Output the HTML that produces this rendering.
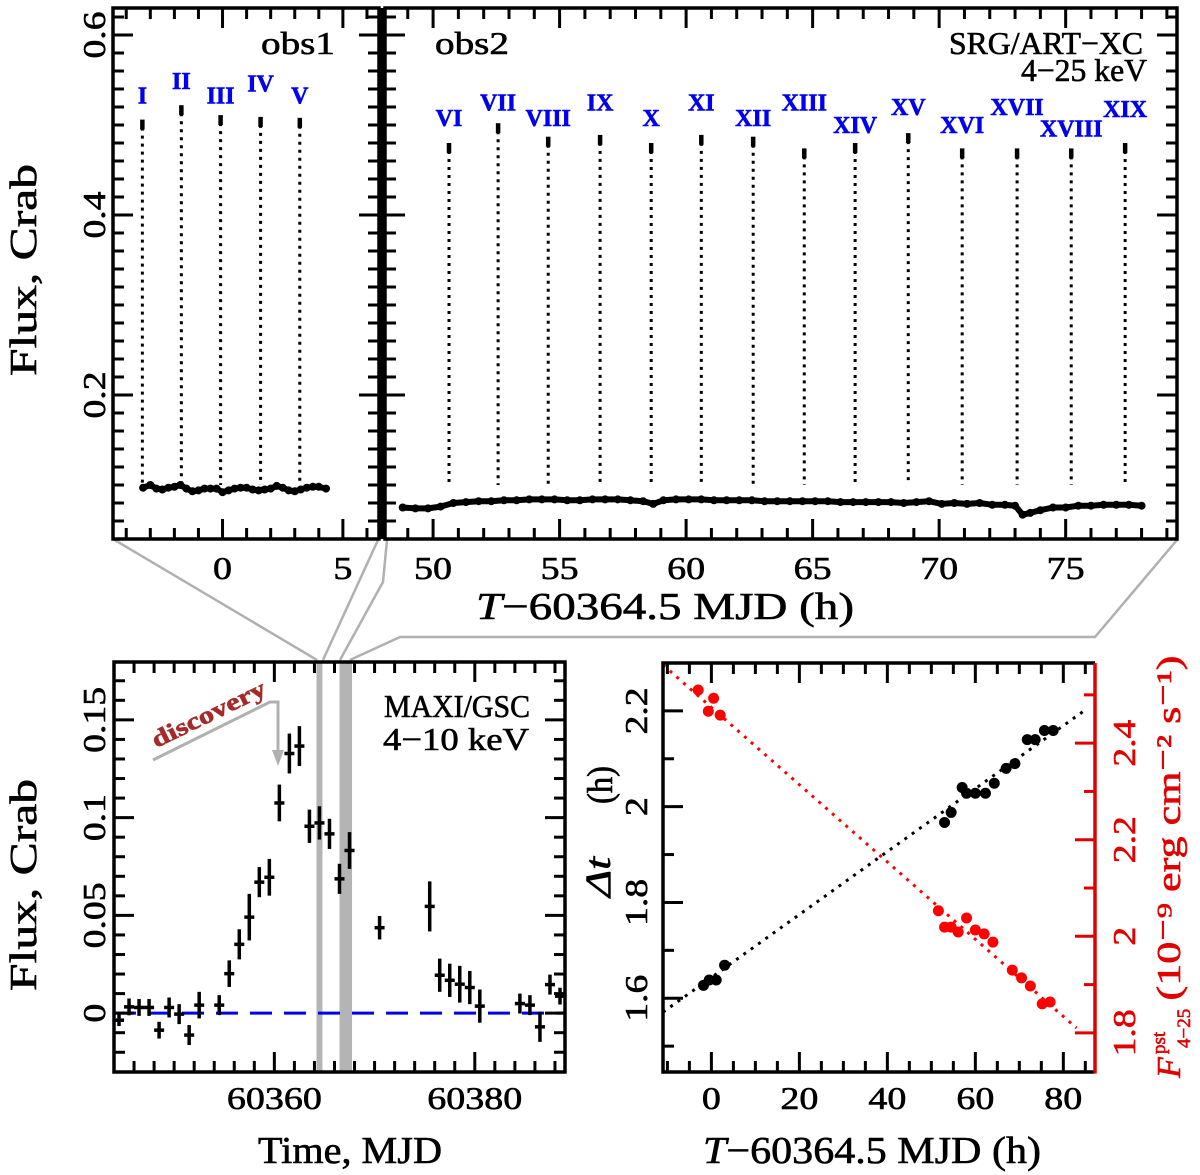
<!DOCTYPE html>
<html><head><meta charset="utf-8">
<style>
html,body{margin:0;padding:0;background:#fff;}
svg{display:block;font-family:"Liberation Serif",serif;}
text{stroke:currentColor;stroke-width:0.6;}
</style></head>
<body>
<svg id="fig" width="1200" height="1175" viewBox="0 0 1200 1175" xmlns="http://www.w3.org/2000/svg">
<g id="connectors" stroke="#b0b0b0" stroke-width="2.5" fill="none">
  <polyline points="113,539 317,660"/>
  <polyline points="378,540 323,660"/>
  <polyline points="387,540 383,582 340,660"/>
  <polyline points="1177,540 1095,637 400,637 350,660"/>
</g>
<g id="layer"></g>
<g color="#000" fill="#000">
<text x="298" y="54" font-size="32" text-anchor="middle" textLength="74" lengthAdjust="spacingAndGlyphs">obs1</text>
<text x="472" y="54" font-size="32" text-anchor="middle" textLength="74" lengthAdjust="spacingAndGlyphs">obs2</text>
<text x="1046" y="54" font-size="32" text-anchor="middle" textLength="194" lengthAdjust="spacingAndGlyphs">SRG/ART−XC</text>
<text x="1084" y="81" font-size="32" text-anchor="middle" textLength="126" lengthAdjust="spacingAndGlyphs">4−25 keV</text>
<text x="457" y="717" font-size="32" text-anchor="middle" textLength="146" lengthAdjust="spacingAndGlyphs">MAXI/GSC</text>
<text x="456" y="750" font-size="32" text-anchor="middle" textLength="146" lengthAdjust="spacingAndGlyphs">4−10 keV</text>
<text x="665" y="619" font-size="38" text-anchor="middle" textLength="378" lengthAdjust="spacingAndGlyphs"><tspan font-style="italic">T</tspan>−60364.5 MJD (h)</text>
<text x="350" y="1163" font-size="38" text-anchor="middle" textLength="184" lengthAdjust="spacingAndGlyphs">Time, MJD</text>
<text x="872" y="1163" font-size="38" text-anchor="middle" textLength="338" lengthAdjust="spacingAndGlyphs"><tspan font-style="italic">T</tspan>−60364.5 MJD (h)</text>
<text transform="translate(36,270) rotate(-90)" font-size="38" text-anchor="middle" textLength="212" lengthAdjust="spacingAndGlyphs">Flux, Crab</text>
<text transform="translate(36,885) rotate(-90)" font-size="38" text-anchor="middle" textLength="212" lengthAdjust="spacingAndGlyphs">Flux, Crab</text>
<text transform="translate(610,877) rotate(-90)" font-size="36" font-style="italic" text-anchor="middle" textLength="40" lengthAdjust="spacingAndGlyphs">Δt</text>
<text transform="translate(612,785) rotate(-90)" font-size="36" text-anchor="middle" textLength="38" lengthAdjust="spacingAndGlyphs">(h)</text>
</g>
<g color="#e00000" fill="#e00000">
<text transform="translate(1180,1078) rotate(-90)" font-size="34" font-style="italic">F</text>
<text transform="translate(1165,1054) rotate(-90)" font-size="19">pst</text>
<text transform="translate(1190,1048) rotate(-90)" font-size="19">4−25</text>
<text transform="translate(1180,828) rotate(-90)" font-size="34" text-anchor="middle" textLength="345" lengthAdjust="spacingAndGlyphs">(10⁻⁹ erg cm⁻² s⁻¹)</text>
</g>
</svg>
<script>
// ---------- DATA ----------
const obs1Time = [-3.3,-3.0,-2.75,-2.5,-2.25,-2.0,-1.75,-1.5,-1.25,-1.0,-0.75,-0.5,-0.25,0.0,0.25,0.5,0.75,1.0,1.25,1.5,1.75,2.0,2.25,2.5,2.75,3.0,3.25,3.5,3.75,4.0,4.3];
const obs1Flux = [0.097,0.100,0.096,0.095,0.097,0.098,0.100,0.096,0.093,0.094,0.096,0.096,0.096,0.092,0.094,0.096,0.097,0.097,0.095,0.094,0.095,0.096,0.099,0.097,0.094,0.093,0.095,0.097,0.098,0.098,0.096];
const obs2Time = [48.8,49.3,49.8,50.3,50.8,51.3,51.8,52.3,52.8,53.3,53.8,54.3,54.8,55.3,55.8,56.3,56.8,57.3,57.8,58.3,58.7,59.1,59.6,60.1,60.6,61.1,61.6,62.1,62.6,63.1,63.6,64.1,64.6,65.1,65.6,66.1,66.6,67.1,67.6,68.1,68.6,69.1,69.6,70.1,70.6,71.1,71.6,72.1,72.6,73.0,73.3,73.6,74.0,74.5,75.0,75.5,76.0,76.5,77.0,77.5,78.0];
const obs2Flux = [0.075,0.074,0.074,0.076,0.080,0.081,0.082,0.082,0.083,0.083,0.084,0.084,0.084,0.083,0.083,0.084,0.084,0.084,0.083,0.082,0.079,0.083,0.084,0.084,0.084,0.083,0.083,0.083,0.083,0.082,0.082,0.082,0.082,0.082,0.082,0.081,0.081,0.081,0.081,0.081,0.080,0.081,0.082,0.079,0.080,0.079,0.080,0.078,0.078,0.077,0.067,0.069,0.072,0.075,0.075,0.077,0.077,0.078,0.078,0.078,0.077];
const segLabels = ["I","II","III","IV","V","VI","VII","VIII","IX","X","XI","XII","XIII","XIV","XV","XVI","XVII","XVIII","XIX"];
const segTime = [-3.33,-1.71,-0.08,1.58,3.21,50.63,52.57,54.55,56.6,58.62,60.6,62.65,64.67,66.68,68.78,70.91,73.08,75.22,77.35];
const segTop = [0.506,0.522,0.511,0.509,0.508,0.480,0.502,0.487,0.489,0.480,0.489,0.487,0.474,0.480,0.491,0.474,0.474,0.474,0.480];
const segLabelFlux = [0.524,0.540,0.524,0.537,0.524,0.499,0.516,0.499,0.516,0.499,0.516,0.499,0.516,0.491,0.511,0.491,0.511,0.487,0.509];
const maxiTime = [60344.5,60345.5,60346.5,60347.5,60348.5,60349.5,60350.5,60351.5,60352.5,60354.5,60355.5,60356.5,60357.5,60358.5,60359.5,60360.5,60361.5,60362.5,60363.5,60364.5,60365.5,60366.5,60367.5,60370.5,60375.5,60376.5,60377.5,60378.5,60379.5,60380.5,60384.5,60385.5,60386.5,60387.5,60388.5];
const maxiFlux = [-0.0036,0.0032,0.0029,0.0029,-0.0087,0.0029,-0.0005,-0.0112,0.0041,0.0041,0.0202,0.0352,0.0491,0.067,0.0695,0.1075,0.1328,0.1366,0.0956,0.0973,0.0917,0.0687,0.0832,0.0437,0.0546,0.0194,0.0168,0.0148,0.0131,0.0036,0.0049,0.0041,-0.007,0.0146,0.0087];
const maxiErr = [0.003,0.0043,0.0043,0.0043,0.0043,0.0051,0.0051,0.0051,0.0068,0.0051,0.0068,0.0077,0.0119,0.0077,0.0094,0.0094,0.0102,0.0102,0.0085,0.0085,0.0077,0.0077,0.0094,0.006,0.0128,0.0085,0.0085,0.0094,0.0085,0.0085,0.0051,0.0051,0.0077,0.0051,0.0043];
const bandStart = [60364.33,60366.5];
const bandEnd = [60364.67,60367.75];
const dtTime = [-1.8,-0.5,1.1,3.0,53,54.5,57,58,60,62.3,64.3,67,69,71.8,73.6,75.7,77.7];
const dtValue = [1.627,1.638,1.638,1.669,1.967,1.988,2.040,2.028,2.028,2.028,2.049,2.080,2.090,2.140,2.140,2.159,2.159];
const fpTime = [-3,-0.7,0.5,2,51.6,53,54.5,56.1,58,60,62,64,68.4,70.5,72.5,75.2,77];
const fpValue = [2.510,2.466,2.493,2.458,2.053,2.019,2.019,2.009,2.038,2.013,2.005,1.988,1.930,1.914,1.897,1.860,1.864];
const dtFitX = [-11,85];
const dtFitY = [1.571,2.202];
const fpFitX = [-11,83];
const fpFitY = [2.562,1.810];
const topYTicks = [0.2,0.4,0.6];
const obs1XTicks = [0,5];
const obs2XTicks = [50,55,60,65,70,75];
const maxiXTicks = [60360,60380];
const maxiYTicks = [0,0.05,0.1,0.15];
const maxiYLabels = ["0","0.05","0.1","0.15"];
const dXTicks = [0,20,40,60,80];
const dtTicks = [1.6,1.8,2.0,2.2];
const dtTickLabels = ["1.6","1.8","2","2.2"];
const fpTicks = [1.8,2.0,2.2,2.4];
const fpTickLabels = ["1.8","2","2.2","2.4"];

// ---------- HELPERS ----------
const NS = "http://www.w3.org/2000/svg";
const layer = document.getElementById('layer');
function mk(tag, attrs, parent){
  const e = document.createElementNS(NS, tag);
  for (const k in attrs) e.setAttribute(k, attrs[k]);
  (parent||layer).appendChild(e);
  return e;
}
function lin(d0,d1,r0,r1){ return v => r0 + (v-d0)/(d1-d0)*(r1-r0); }
function ticksRange(a,b,step){ const out=[]; const s=Math.ceil(a/step-1e-9); for(let i=s;i*step<=b+1e-9;i++) out.push(+(i*step).toFixed(6)); return out; }
function tlen(s){ let n=0; for(const ch of s) n += (ch==='.')?9:19; return n; }

const A = {x0:113,x1:379,y0:8,y1:539}; A.sx=lin(-4.55,6.5,A.x0,A.x1); A.sy=lin(0.63,0.04,A.y0,A.y1);
const B = {x0:385,x1:1177,y0:8,y1:539}; B.sx=lin(48.1,79.4,B.x0,B.x1); B.sy=lin(0.63,0.04,B.y0,B.y1);
const C = {x0:114,x1:565,y0:662,y1:1072}; C.sx=lin(60344,60389,C.x0,C.x1); C.sy=lin(0.1796,-0.0301,C.y0,C.y1);
const D = {x0:663,x1:1095,y0:663,y1:1072}; D.sx=lin(-11,87.2,D.x0,D.x1); D.sy=lin(2.300,1.446,D.y0,D.y1); D.sy2=lin(2.566,1.719,D.y0,D.y1);

function xTicks(P, g, dmin, dmax, minor, major){
  ticksRange(dmin,dmax,minor).forEach(v=>{
    const x=P.sx(v); if(x<P.x0+2||x>P.x1-2) return;
    const isMaj = major.some(m=>Math.abs(m-v)<1e-6);
    const L = isMaj?20:11;
    mk('line',{x1:x,y1:P.y1,x2:x,y2:P.y1-L,stroke:'#000','stroke-width':3},g);
    mk('line',{x1:x,y1:P.y0,x2:x,y2:P.y0+L,stroke:'#000','stroke-width':3},g);
  });
}
function yTicks(P, g, sy, dmin, dmax, minor, major, left, right, col){
  ticksRange(dmin,dmax,minor).forEach(v=>{
    const y=sy(v); if(y<P.y0+2||y>P.y1-2) return;
    const isMaj = major.some(m=>Math.abs(m-v)<1e-6);
    const L = isMaj?20:11;
    if(left) mk('line',{x1:P.x0,y1:y,x2:P.x0+L,y2:y,stroke:col||'#000','stroke-width':3},g);
    if(right) mk('line',{x1:P.x1,y1:y,x2:P.x1-L,y2:y,stroke:col||'#000','stroke-width':3},g);
  });
}
function frame(P,g,name){
  const r = mk('rect',{x:P.x0,y:P.y0,width:P.x1-P.x0,height:P.y1-P.y0,fill:'none',stroke:'#000','stroke-width':3.5},g);
  
  
}
function label(x,y,txt,g,opts){
  const t = mk('text',Object.assign({x:x,y:y,'font-size':32,'text-anchor':'middle',textLength:tlen(txt),lengthAdjust:'spacingAndGlyphs',color:'#000'},opts||{}),g);
  t.textContent = txt; return t;
}
function rlabel(x,y,txt,g,col){
  const t = mk('text',{transform:`translate(${x},${y}) rotate(-90)`,'font-size':32,'text-anchor':'middle',fill:col||'#000',color:col||'#000',textLength:tlen(txt),lengthAdjust:'spacingAndGlyphs'},g);
  t.textContent = txt; return t;
}

// ---------- PANEL A & B ----------
[[A,obs1Time,obs1Flux,'obs1',[-4.55,6.5],obs1XTicks,0,5],[B,obs2Time,obs2Flux,'obs2',[48.1,79.4],obs2XTicks,5,19]].forEach(([P,T,F,nm,dom,xt,s0,s1])=>{
  const g = mk('g',{});
  
  
  for(let i=s0;i<s1;i++){
    const x=P.sx(segTime[i]);
    const seg = mk('line',{x1:x,y1:P.sy(segTop[i])+8,x2:x,y2:P.sy(0.1),stroke:'#000','stroke-width':3,'stroke-dasharray':'3 5'},g);
    
    
    mk('line',{x1:x,y1:P.sy(segTop[i]),x2:x,y2:P.sy(segTop[i])+10,stroke:'#000','stroke-width':4.5},g);
    const t = mk('text',{x:x,y:P.sy(segLabelFlux[i]),'text-anchor':'middle',fill:'#0000ee',color:'#0000ee','font-weight':'bold','font-size':24},g);
    t.textContent = segLabels[i];
    
    
  }
  const pts = T.map((t,i)=>P.sx(t).toFixed(1)+','+P.sy(F[i]).toFixed(1)).join(' ');
  const pl = mk('polyline',{points:pts,fill:'none',stroke:'#000','stroke-width':6,'stroke-linejoin':'round','stroke-linecap':'round'},g);
  
  
  T.forEach((t,i)=>{
    const c = mk('circle',{cx:P.sx(t),cy:P.sy(F[i]),r:4,fill:'#000'},g);
    
    
  });
  xTicks(P,g,dom[0],dom[1],1,xt);
  yTicks(P,g,P.sy,0.04,0.63,0.02,topYTicks,true,true);
  frame(P,g,nm+'-frame');
  xt.forEach(v=>{ const t=label(P.sx(v),579,String(v),g);   });
});
mk('rect',{x:379,y:8,width:6,height:531,fill:'#000'});
topYTicks.forEach(v=>{ const t=rlabel(105,A.sy(v),v.toFixed(1),layer);   });

// ---------- PANEL C (MAXI) ----------
(function(){
  const P=C; const g=mk('g',{});
  
  
  bandStart.forEach((b,i)=>{
    const x0=P.sx(b), x1=P.sx(bandEnd[i]); const w=Math.max(x1-x0,6);
    const r = mk('rect',{x:(x0+x1)/2-w/2,y:P.y0,width:w,height:P.y1-P.y0,fill:'#b4b4b4'},g);
    
    
  });
  const zl = mk('line',{x1:P.x0,y1:P.sy(0),x2:P.x1,y2:P.sy(0),stroke:'#0000ee','stroke-width':3,'stroke-dasharray':'22 12'},g);
  
  
  maxiTime.forEach((t,i)=>{
    const x=P.sx(t), y=P.sy(maxiFlux[i]);
    const pg = mk('g',{},g);
    
    
    mk('line',{x1:x,y1:P.sy(maxiFlux[i]+maxiErr[i]),x2:x,y2:P.sy(maxiFlux[i]-maxiErr[i]),stroke:'#000','stroke-width':3.5},pg);
    mk('line',{x1:P.sx(t-0.5),y1:y,x2:P.sx(t+0.5),y2:y,stroke:'#000','stroke-width':3.5},pg);
  });
  xTicks(P,g,60344,60389,2,maxiXTicks);
  yTicks(P,g,P.sy,-0.03,0.18,0.01,maxiYTicks,true,true);
  frame(P,g,'maxi-frame');
  maxiXTicks.forEach(v=>{ const t=label(P.sx(v),1109,String(v),g);   });
  maxiYTicks.forEach((v,i)=>{ const t=rlabel(105,P.sy(v),maxiYLabels[i],g);   });
  const ann = mk('g',{},g);
  
  
  mk('polyline',{points:'153,760 270,702 278,702 278,752',fill:'none',stroke:'#b0b0b0','stroke-width':3},ann);
  mk('polygon',{points:'272,750 284,750 278,766',fill:'#b0b0b0'},ann);
  const dt = mk('text',{transform:'translate(212,721) rotate(-26)','font-size':24,'font-weight':'bold',fill:'#a52a2a',color:'#a52a2a','text-anchor':'middle',textLength:124,lengthAdjust:'spacingAndGlyphs'},ann);
  dt.textContent='discovery';
})();

// ---------- PANEL D ----------
(function(){
  const P=D; const g=mk('g',{});
  
  
  const f1 = mk('line',{x1:P.sx(dtFitX[0]),y1:P.sy(dtFitY[0]),x2:P.sx(dtFitX[1]),y2:P.sy(dtFitY[1]),stroke:'#000','stroke-width':3,'stroke-dasharray':'3 6'},g);
  
  
  const f2 = mk('line',{x1:P.sx(fpFitX[0]),y1:P.sy2(fpFitY[0]),x2:P.sx(fpFitX[1]),y2:P.sy2(fpFitY[1]),stroke:'#ff0000','stroke-width':3,'stroke-dasharray':'3 6'},g);
  
  
  dtTime.forEach((t,i)=>{
    const c=mk('circle',{cx:P.sx(t),cy:P.sy(dtValue[i]),r:5.5,fill:'#000'},g);
    
    
  });
  fpTime.forEach((t,i)=>{
    const c=mk('circle',{cx:P.sx(t),cy:P.sy2(fpValue[i]),r:5.5,fill:'#ff0000'},g);
    
    
  });
  xTicks(P,g,-11,87,5,dXTicks);
  yTicks(P,g,P.sy,1.4,2.3,0.1,dtTicks,true,false);
  yTicks(P,g,P.sy2,1.7,2.6,0.1,fpTicks,false,true,'#e00000');
  mk('polyline',{points:`${P.x1},${P.y0} ${P.x0},${P.y0} ${P.x0},${P.y1} ${P.x1},${P.y1}`,fill:'none',stroke:'#000','stroke-width':3.5},g);
  const ra = mk('line',{x1:P.x1,y1:P.y0,x2:P.x1,y2:P.y1+1.5,stroke:'#e00000','stroke-width':3.5},g);
  
  
  dXTicks.forEach(v=>{ const t=label(P.sx(v),1109,String(v),g);   });
  dtTicks.forEach((v,i)=>{ const t=rlabel(647,P.sy(v),dtTickLabels[i],g);   });
  fpTicks.forEach((v,i)=>{ const t=rlabel(1135,P.sy2(v),fpTickLabels[i],g,'#e00000');   });
})();
</script>
</body></html>
